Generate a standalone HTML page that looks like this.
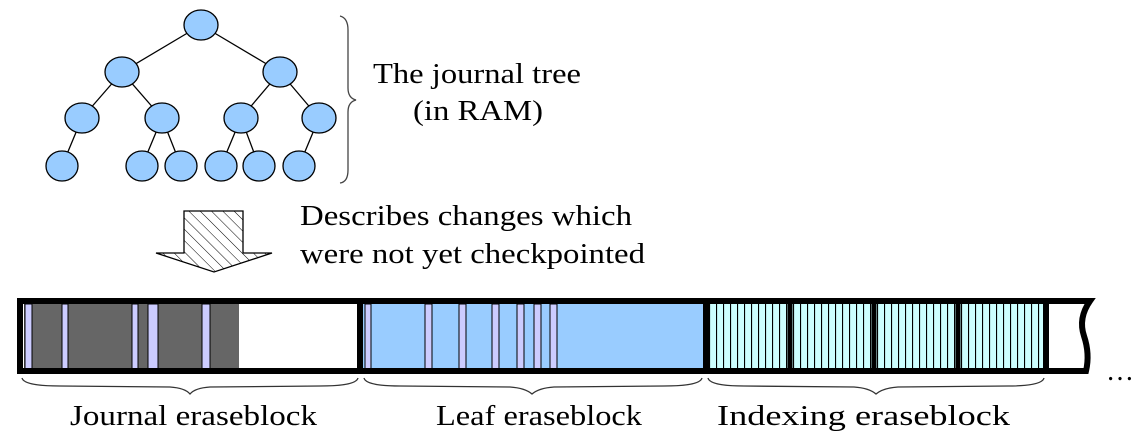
<!DOCTYPE html>
<html><head><style>
body{margin:0;background:#fff;width:1144px;height:436px;overflow:hidden}
text{font-family:"Liberation Serif",serif;font-size:28px;fill:#000}
</style></head><body>
<svg width="1144" height="436" xmlns="http://www.w3.org/2000/svg">
<defs>
<pattern id="h" width="8" height="8" patternUnits="userSpaceOnUse" patternTransform="rotate(-45)">
<line x1="0" y1="0" x2="0" y2="8" stroke="#000" stroke-width="1"/></pattern>
<pattern id="v" x="709" width="7" height="10" patternUnits="userSpaceOnUse">
<rect width="7" height="10" fill="#ccffff"/><line x1="0.5" y1="0" x2="0.5" y2="10" stroke="#000" stroke-width="1.2"/></pattern>
</defs>
<g stroke="#000" stroke-width="1.3">
<line x1="201" y1="25" x2="122" y2="72"/><line x1="201" y1="25" x2="280" y2="72"/>
<line x1="122" y1="72" x2="82" y2="118"/><line x1="122" y1="72" x2="162" y2="118"/>
<line x1="280" y1="72" x2="241" y2="118"/><line x1="280" y1="72" x2="319" y2="118"/>
<line x1="82" y1="118" x2="62" y2="166"/>
<line x1="162" y1="118" x2="142" y2="166"/><line x1="162" y1="118" x2="181" y2="166"/>
<line x1="241" y1="118" x2="221" y2="166"/><line x1="241" y1="118" x2="259" y2="166"/>
<line x1="319" y1="118" x2="299" y2="166"/>
</g>
<g fill="#99ccff" stroke="#000" stroke-width="1.3">
<ellipse cx="201" cy="25" rx="17" ry="15"/>
<ellipse cx="122" cy="72" rx="17" ry="15"/><ellipse cx="280" cy="72" rx="17" ry="15"/>
<ellipse cx="82" cy="118" rx="17" ry="15"/><ellipse cx="162" cy="118" rx="17" ry="15"/>
<ellipse cx="241" cy="118" rx="17" ry="15"/><ellipse cx="319" cy="118" rx="17" ry="15"/>
<ellipse cx="62" cy="166" rx="16" ry="15"/><ellipse cx="142" cy="166" rx="16" ry="15"/>
<ellipse cx="181" cy="166" rx="16" ry="15"/><ellipse cx="221" cy="166" rx="16" ry="15"/>
<ellipse cx="259" cy="166" rx="16" ry="15"/><ellipse cx="299" cy="166" rx="16" ry="15"/>
</g>
<path d="M340 16 Q348 18 348 30 L348 88 Q348 98 356 100 Q348 102 348 112 L348 170 Q348 182 340 183" fill="none" stroke="#444" stroke-width="1.3"/>
<text x="373" y="83" textLength="208" lengthAdjust="spacingAndGlyphs">The journal tree</text>
<text x="413" y="120" textLength="130" lengthAdjust="spacingAndGlyphs">(in RAM)</text>
<path d="M184 211 H243 V253 H272 L214 272 L156 253 H184 Z" fill="url(#h)" stroke="#000" stroke-width="1.3"/>
<text x="300" y="225" textLength="332" lengthAdjust="spacingAndGlyphs">Describes changes which</text>
<text x="300" y="263" textLength="345" lengthAdjust="spacingAndGlyphs">were not yet checkpointed</text>
<rect x="20" y="301" width="340" height="70" fill="#fff"/>
<rect x="24" y="304" width="215" height="65" fill="#666"/>
<g fill="#ccccff" stroke="#000" stroke-width="1">
<rect x="25" y="304" width="7" height="65"/><rect x="62" y="304" width="6" height="65"/>
<rect x="132" y="304" width="6" height="65"/><rect x="148" y="304" width="10" height="65"/>
<rect x="202" y="304" width="8" height="65"/>
</g>
<rect x="362" y="304" width="342" height="65" fill="#99ccff"/>
<g fill="#ccccff" stroke="#000" stroke-width="1">
<rect x="365" y="304" width="6" height="65"/><rect x="425" y="304" width="7" height="65"/>
<rect x="459" y="304" width="7" height="65"/><rect x="492" y="304" width="7" height="65"/>
<rect x="517" y="304" width="7" height="65"/><rect x="534" y="304" width="7" height="65"/>
<rect x="550" y="304" width="7" height="65"/>
</g>
<rect x="709" y="304" width="336" height="65" fill="url(#v)"/>
<g stroke="#000" stroke-width="5">
<line x1="790" y1="300" x2="790" y2="372"/><line x1="874" y1="300" x2="874" y2="372"/>
<line x1="958" y1="300" x2="958" y2="372"/>
</g>
<g fill="none" stroke="#000" stroke-width="6">
<rect x="20" y="301" width="340" height="70"/>
<rect x="360" y="301" width="346" height="70"/>
<rect x="706" y="301" width="340" height="70"/>
<path d="M1046 301 H1090 Q1078 318 1084 336 Q1090 354 1086 371 H1046"/>
</g>
<text x="1106" y="380">…</text>
<g fill="none" stroke="#333" stroke-width="1.3">
<path d="M22 378 Q24 386 60 386 L170 387 Q185 388 190 394 Q195 388 210 387 L320 386 Q356 386 358 378"/>
<path d="M364 378 Q366 386 400 386 L510 387 Q525 388 532 394 Q539 388 554 387 L664 386 Q700 386 702 378"/>
<path d="M708 378 Q710 386 744 386 L854 387 Q869 388 876 394 Q883 388 898 387 L1008 386 Q1042 386 1044 378"/>
</g>
<text x="70" y="425" textLength="247" lengthAdjust="spacingAndGlyphs">Journal eraseblock</text>
<text x="436" y="425" textLength="206" lengthAdjust="spacingAndGlyphs">Leaf eraseblock</text>
<text x="717" y="425" textLength="293" lengthAdjust="spacingAndGlyphs">Indexing eraseblock</text>
</svg>
</body></html>
